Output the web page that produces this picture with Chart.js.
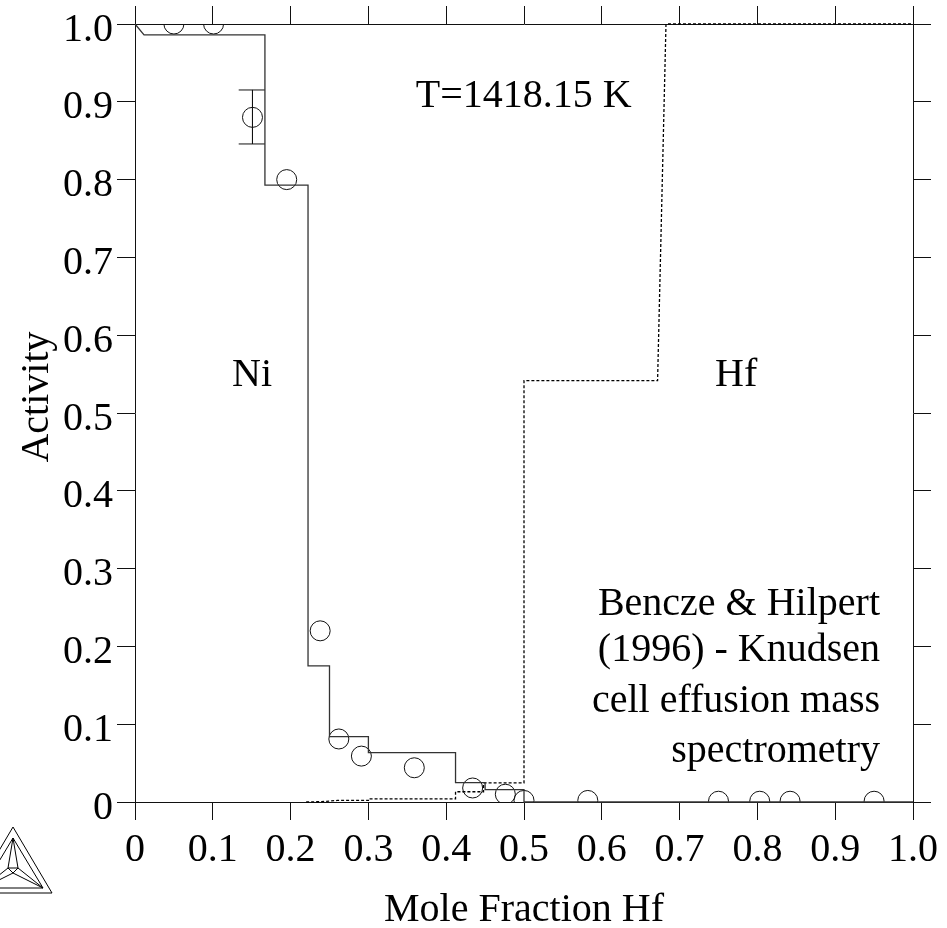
<!DOCTYPE html>
<html>
<head>
<meta charset="utf-8">
<title>Activity Ni-Hf</title>
<script src="https://cdn.jsdelivr.net/npm/chart.js@4/dist/chart.umd.min.js"></script>
<style>
    html, body { margin: 0; padding: 0; background: #fff; }
    #wrap { position: relative; width: 947px; height: 928px; }
</style>
</head>
<body>
<div id="wrap"><canvas id="activityChart"></canvas></div>
<script>
// ===== DATA =====

const tickLabels = ["0", "0.1", "0.2", "0.3", "0.4", "0.5", "0.6", "0.7", "0.8", "0.9", "1.0"];

const niX = [0, 0.0116, 0.167, 0.167, 0.2224, 0.2224, 0.25, 0.25, 0.3, 0.3, 0.412, 0.412, 0.45, 0.45, 0.5, 0.5, 1];
const niY = [1, 0.986, 0.986, 0.793, 0.793, 0.175, 0.175, 0.084, 0.084, 0.0634, 0.0634, 0.0248, 0.0248, 0.0158, 0.0158, 0, 0];

const hfX = [0.22, 0.24, 0.26, 0.3, 0.3, 0.412, 0.412, 0.448, 0.448, 0.5, 0.5, 0.6717, 0.6825, 1];
const hfY = [0, 0.0005, 0.002, 0.002, 0.004, 0.004, 0.0132, 0.0132, 0.0245, 0.0245, 0.5415, 0.5415, 1, 1];

const expX = [0.05, 0.101, 0.151, 0.195, 0.238, 0.262, 0.291, 0.359, 0.434, 0.476, 0.5, 0.582, 0.75, 0.803, 0.842, 0.95];
const expY = [1, 1, 0.88, 0.8, 0.22, 0.081, 0.059, 0.044, 0.018, 0.01, 0.002, 0.002, 0.001, 0.001, 0.001, 0.001];

const errX = [0.1333, 0.167, null, 0.151, 0.151, null, 0.1333, 0.167];
const errY = [0.9152, 0.9152, null, 0.9152, 0.8458, null, 0.8458, 0.8458];

const xTitle = "Mole Fraction Hf";
const yTitle = "Activity";
const noteTemp = "T=1418.15 K";
const noteNi = "Ni";
const noteHf = "Hf";
const noteSource = ["Bencze & Hilpert", "(1996) - Knudsen", "cell effusion mass", "spectrometry"];

// ===== HELPERS =====

const FONT = '40px "Liberation Serif", "Times New Roman", serif';
const INK = "#111";

function toPoints(xs, ys) {
    return xs.map((x, i) => ({ x: x, y: ys[i] }));
}

function frameAxis(position, size, extra) {
    const horizontal = position === "top" || position === "bottom";
    return Object.assign({
        type: "linear",
        position: position,
        min: 0,
        max: 1,
        afterBuildTicks: scale => {
            scale.ticks = tickLabels.map((t, i) => ({ value: i / 10 }));
        },
        afterFit: scale => {
            if (horizontal) scale.height = size;
            else scale.width = size;
            // labels may hang over the edge, the plot box stays where it is
            scale.paddingTop = 0;
            scale.paddingBottom = 0;
            scale.paddingLeft = 0;
            scale.paddingRight = 0;
        },
        border: { display: true, color: INK, width: 1 },
        grid: {
            drawOnChartArea: false,
            drawTicks: true,
            tickLength: 18,
            tickColor: INK,
            lineWidth: 1
        },
        ticks: { display: false }
    }, extra || {});
}

// text notes and the logo down in the corner
const notesPlugin = {
    id: "notes",
    afterDraw(chart) {
        const ctx = chart.ctx;
        const x = chart.scales.x;
        const y = chart.scales.y;

        ctx.save();
        ctx.fillStyle = "#000";
        ctx.font = FONT;
        ctx.textBaseline = "alphabetic";

        ctx.textAlign = "left";
        ctx.fillText(noteTemp, x.getPixelForValue(0.361), y.getPixelForValue(0.893));
        ctx.fillText(noteNi, x.getPixelForValue(0.1247), y.getPixelForValue(0.535));
        ctx.fillText(noteHf, x.getPixelForValue(0.7455), y.getPixelForValue(0.535));

        ctx.textAlign = "right";
        const sourceY = [0.24, 0.181, 0.116, 0.051];
        noteSource.forEach((line, i) => {
            ctx.fillText(line, x.getPixelForValue(0.9576), y.getPixelForValue(sourceY[i]));
        });

        // y title sits above the middle of the axis, scale title can't do that
        ctx.save();
        ctx.translate(48, 397);
        ctx.rotate(-Math.PI / 2);
        ctx.textAlign = "center";
        ctx.fillText(yTitle, 0, 0);
        ctx.restore();

        // logo
        ctx.strokeStyle = "#000";
        ctx.lineWidth = 1;
        const paths = [
            [[13, 827], [52, 893], [-26, 893], [13, 827]],
            [[13, 838], [43, 888], [-17, 888], [13, 838]],
            [[8, 868], [13, 838], [18, 868], [13, 873], [8, 868], [18, 868]],
            [[18, 868], [43, 888], [13, 873], [-17, 888], [8, 868]]
        ];
        paths.forEach(path => {
            ctx.beginPath();
            path.forEach((p, i) => i ? ctx.lineTo(p[0], p[1]) : ctx.moveTo(p[0], p[1]));
            ctx.stroke();
        });
        ctx.restore();
    }
};

// ===== CHART =====

Chart.defaults.font.family = '"Liberation Serif", "Times New Roman", serif';

new Chart(document.getElementById("activityChart"), {
    type: "scatter",
    data: {
        datasets: [
            {
                label: "Ni",
                data: toPoints(niX, niY),
                showLine: true,
                borderColor: "#333",
                borderWidth: 1.3,
                pointRadius: 0,
                clip: 1
            },
            {
                label: "Hf",
                data: toPoints(hfX, hfY),
                showLine: true,
                borderColor: "#000",
                borderWidth: 1.3,
                borderDash: [3, 2],
                pointRadius: 0,
                clip: 1
            },
            {
                label: "Error",
                data: toPoints(errX, errY),
                showLine: true,
                spanGaps: false,
                borderColor: "#111",
                borderWidth: 1,
                pointRadius: 0,
                clip: 1
            },
            {
                label: "Bencze & Hilpert",
                data: toPoints(expX, expY),
                showLine: false,
                pointStyle: "circle",
                pointRadius: 10,
                pointBorderWidth: 1,
                pointBorderColor: "#111",
                pointBackgroundColor: "rgba(0,0,0,0)",
                clip: 0
            }
        ]
    },
    options: {
        responsive: true,
        maintainAspectRatio: false,
        animation: false,
        layout: { padding: 0 },
        plugins: {
            legend: { display: false },
            tooltip: { enabled: false }
        },
        scales: {
            x: frameAxis("bottom", 126, {
                ticks: {
                    display: true,
                    autoSkip: false,
                    maxRotation: 0,
                    color: "#000",
                    font: { size: 40 },
                    padding: 6,
                    callback: (value, i) => tickLabels[i]
                },
                title: {
                    display: true,
                    text: xTitle,
                    color: "#000",
                    font: { size: 40 },
                    padding: { top: 0, bottom: -6 }
                }
            }),
            y: frameAxis("left", 135, {
                ticks: {
                    display: true,
                    autoSkip: false,
                    color: "#000",
                    font: { size: 40 },
                    padding: 4,
                    labelOffset: 6,
                    callback: (value, i) => tickLabels[i]
                }
            }),
            xTop: frameAxis("top", 24),
            yRight: frameAxis("right", 34)
        }
    },
    plugins: [notesPlugin]
});
</script>
</body>
</html>
